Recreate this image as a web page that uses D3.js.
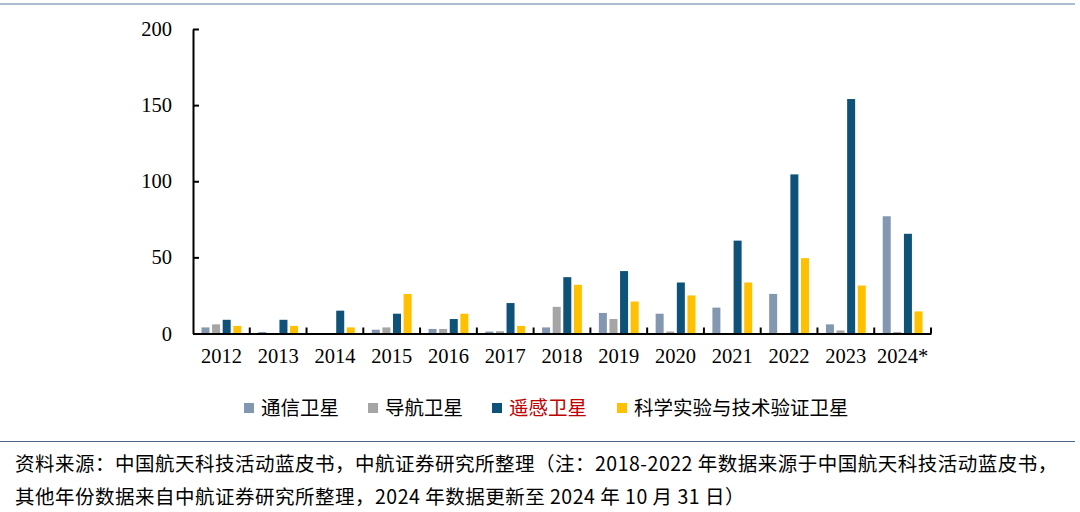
<!DOCTYPE html>
<html>
<head>
<meta charset="utf-8">
<script src="https://cdn.jsdelivr.net/npm/d3@7/dist/d3.min.js"></script>
<style>
  body { margin: 0; background: #fff; }
  svg { display: block; }
</style>
</head>
<body>
<svg id="chart" width="1080" height="512"></svg>
<script>
// Data
var years = ["2012", "2013", "2014", "2015", "2016", "2017", "2018", "2019", "2020", "2021", "2022", "2023", "2024*"];
var seriesNames = ["通信卫星", "导航卫星", "遥感卫星", "科学实验与技术验证卫星"];
var comms   = [4, 1, 0, 2.5, 3, 1.3, 4, 13.5, 13, 17, 26, 6, 77];
var navi    = [6, 0, 0, 4, 3, 1.5, 17.5, 9.5, 1.3, 0, 0, 2, 1];
var remote  = [9, 9, 15, 13, 9.5, 20, 37, 41, 33.5, 61, 104.5, 154, 65.5];
var science = [5, 5, 4, 26, 13, 5, 32, 21, 25, 33.5, 49.5, 31.5, 14.5];
var yTicks  = [0, 50, 100, 150, 200];

var colors = ["#8497B0", "#A5A5A5", "#0E5279", "#FFC000"];
var allValues = [comms, navi, remote, science];

var svg = d3.select("#chart");
var numFont = "'Liberation Serif', 'DejaVu Serif', serif";
var cjkFont = "'Noto Sans CJK SC', sans-serif";

// top and bottom rules
svg.append("line").attr("x1", 0).attr("x2", 1075).attr("y1", 4).attr("y2", 4)
    .attr("stroke", "#8FA7BF").attr("stroke-width", 1.5);
svg.append("line").attr("x1", 0).attr("x2", 1075).attr("y1", 441.5).attr("y2", 441.5)
    .attr("stroke", "#4A6685").attr("stroke-width", 1.2);

var x0 = d3.scaleBand().domain(years).range([193, 931]).padding(0);
var x1 = d3.scaleBand().domain(d3.range(4)).range([0, x0.bandwidth()])
    .paddingInner(0.245).paddingOuter(0.8);
var y = d3.scaleLinear().domain([0, 200]).range([333.5, 29]);

// bars
var groups = svg.append("g").selectAll("g").data(years).enter().append("g")
    .attr("transform", function(d){ return "translate(" + x0(d) + ",0)"; });

groups.selectAll("rect")
    .data(function(d, i){
        return allValues.map(function(arr, s){ return {s: s, v: arr[i]}; });
    })
    .enter().append("rect")
    .attr("x", function(d){ return x1(d.s); })
    .attr("width", x1.bandwidth())
    .attr("y", function(d){ return y(d.v); })
    .attr("height", function(d){ return y(0) - y(d.v); })
    .attr("fill", function(d){ return colors[d.s]; });

// y axis
var yAxis = svg.append("g").attr("transform", "translate(193,0)")
    .call(d3.axisLeft(y).tickValues(yTicks).tickSizeInner(-6).tickSizeOuter(0).tickPadding(21));
yAxis.select(".domain").attr("stroke", "#000").attr("stroke-width", 2);
yAxis.selectAll(".tick line").attr("stroke", "#000").attr("stroke-width", 2);
yAxis.selectAll("text").attr("font-family", numFont).attr("font-size", 20.5).attr("fill", "#000");

// x axis
var xAxis = svg.append("g").attr("transform", "translate(0," + y(0) + ")")
    .call(d3.axisBottom(x0).tickSize(0).tickPadding(15));
xAxis.select(".domain").attr("stroke", "#000").attr("stroke-width", 2);
xAxis.selectAll("text").attr("font-family", numFont).attr("font-size", 20.5).attr("fill", "#000");

// ticks between categories
var bounds = years.slice(1).map(function(d){ return x0(d); }).concat([x0.range()[1]]);
svg.append("g").selectAll("line").data(bounds).enter().append("line")
    .attr("x1", function(d){ return d; }).attr("x2", function(d){ return d; })
    .attr("y1", y(0)).attr("y2", y(0) - 6)
    .attr("stroke", "#000").attr("stroke-width", 2);

// legend
var legendX = [244, 368, 492, 617];
var legend = svg.append("g").selectAll("g").data(seriesNames).enter().append("g")
    .attr("transform", function(d, i){ return "translate(" + legendX[i] + ",408)"; });
legend.append("rect").attr("x", 0).attr("y", -5).attr("width", 10).attr("height", 10)
    .attr("fill", function(d, i){ return colors[i]; });
legend.append("text").attr("x", 17).attr("dy", "0.36em")
    .attr("font-family", cjkFont).attr("font-size", 19.5)
    .attr("fill", function(d, i){ return i === 2 ? "#C00000" : "#000"; })
    .text(function(d){ return d; });

// source note
var notes = [
    "资料来源：中国航天科技活动蓝皮书，中航证券研究所整理（注：2018-2022 年数据来源于中国航天科技活动蓝皮书，",
    "其他年份数据来自中航证券研究所整理，2024 年数据更新至 2024 年 10 月 31 日）"
];
svg.append("g").selectAll("text").data(notes).enter().append("text")
    .attr("x", 15).attr("y", function(d, i){ return 464 + i * 33; })
    .attr("dy", "0.36em")
    .attr("font-family", cjkFont).attr("font-size", 19.5)
    .attr("letter-spacing", 0.5).attr("fill", "#000")
    .text(function(d){ return d; });
</script>
</body>
</html>
